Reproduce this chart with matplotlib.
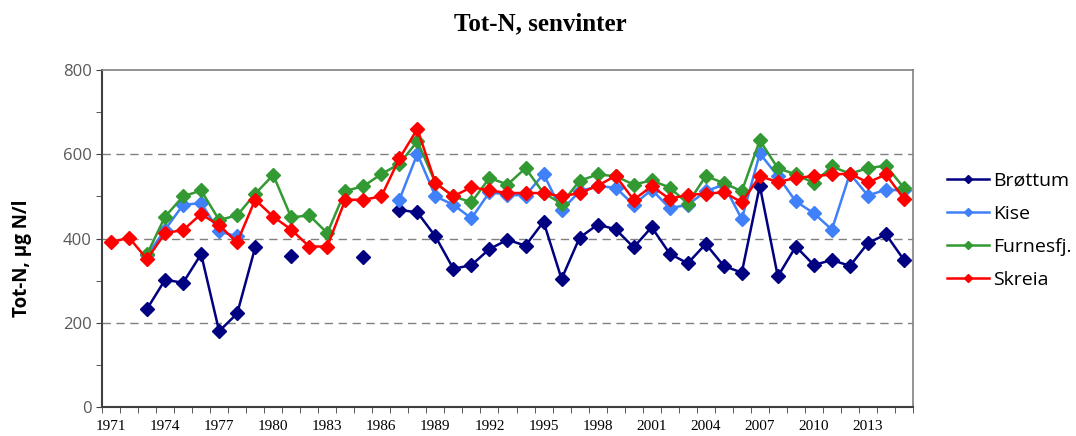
import matplotlib.pyplot as plt
import numpy as np

nan = np.nan
years = list(range(1971, 2016))

brottum = [nan, nan, 233, 302, 295, 363, 180, 222, 379, nan,
           359, nan, nan, nan, 357, nan, 468, 462, 405, 328,
           337, 375, 397, 383, 440, 304, 402, 433, 422, 379,
           427, 364, 341, 387, 335, 319, 525, 310, 381, 337,
           349, 335, 389, 410, 349]
kise = [nan, nan, 360, 421, 480, 484, 417, 405, nan, nan,
        nan, nan, nan, nan, nan, nan, 492, 601, 500, 480,
        448, 510, 504, 502, 553, 467, 512, 524, 521, 480,
        516, 472, 480, 512, 528, 446, 602, 548, 488, 460,
        421, 554, 502, 516, 514]
furnes = [nan, nan, 363, 452, 500, 514, 444, 455, 506, 551,
          450, 455, 413, 513, 524, 553, 577, 631, 532, 500,
          486, 544, 528, 567, 508, 483, 537, 552, 548, 528,
          538, 521, 483, 548, 532, 512, 633, 567, 552, 532,
          571, 554, 567, 573, 520]
skreia = [391, 402, 351, 413, 420, 458, 431, 391, 492, 452,
          421, 381, 381, 492, 492, 500, 590, 660, 532, 500,
          522, 514, 508, 508, 508, 500, 508, 525, 549, 492,
          524, 494, 504, 506, 510, 486, 548, 534, 544, 548,
          552, 554, 533, 552, 494]

series = [("Brøttum", brottum, "#000080"),
          ("Kise", kise, "#4080F8"),
          ("Furnesfj.", furnes, "#339933"),
          ("Skreia", skreia, "#FF0000")]

fig = plt.figure(figsize=(10.76, 4.36), dpi=100)
ax = fig.add_axes([0.0948, 0.0665, 0.7537, 0.7729])

for name, vals, col in series:
    ax.plot(years, vals, color=col, lw=1.8, marker="D", markersize=7,
            label=name)

ax.set_xlim(1970.6, 2015.5)
ax.set_ylim(0, 800)
for v in (200, 400, 600):
    ax.axhline(v, color="#808080", lw=1.0, ls=(0, (6, 4)), zorder=0)

ax.set_yticks([0, 200, 400, 600, 800])
ax.set_yticks(range(0, 801, 100), minor=True)
ax.set_xticks(years[::3])
ax.set_xticks(np.arange(1970.5, 2015.6, 1), minor=True)
ax.tick_params(axis="x", which="major", length=0, pad=9)
ax.tick_params(axis="x", which="minor", length=4, direction="out", color="#404040")
ax.tick_params(axis="y", which="both", length=4, direction="out", color="#404040")
for lab in ax.get_xticklabels():
    lab.set_fontfamily("Liberation Serif")
    lab.set_fontsize(11)
for lab in ax.get_yticklabels():
    lab.set_fontfamily("Open Sans")
    lab.set_fontsize(12)
    lab.set_color("#595959")

for side in ("left", "bottom"):
    ax.spines[side].set_color("#404040")
    ax.spines[side].set_linewidth(1.5)
for side in ("top", "right"):
    ax.spines[side].set_color("#808080")
    ax.spines[side].set_linewidth(1.2)

ax.set_ylabel("Tot-N, µg N/l", fontfamily="Open Sans", fontweight="bold",
              fontsize=13.5)
ax.yaxis.set_label_coords(-0.086, 0.442)
fig.text(0.502, 0.945, "Tot-N, senvinter", ha="center", va="center",
         fontfamily="Liberation Serif", fontweight="bold", fontsize=18)

leg = ax.legend(loc="upper left", bbox_to_anchor=(1.02, 0.75), frameon=False,
                prop={"family": "Open Sans", "size": 14}, labelspacing=0.78,
                handlelength=2.2, handletextpad=0.2, markerscale=0.65)

fig.savefig("out.png", dpi=100)
